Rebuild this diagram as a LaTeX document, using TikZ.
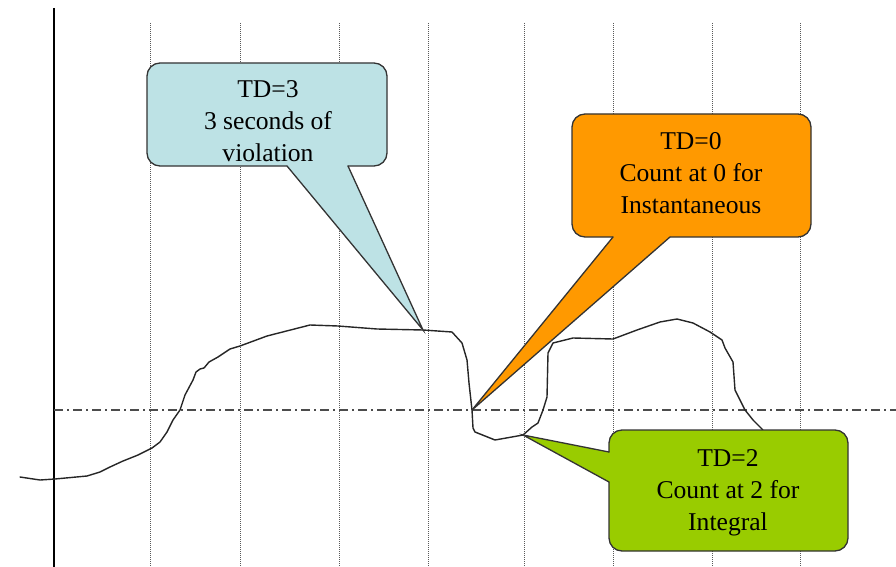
\documentclass[tikz,border=0pt]{standalone}
\usepackage{fontspec}
\setmainfont{Liberation Serif}
\definecolor{bubbleblue}{HTML}{BDE2E5}
\definecolor{bubbleorange}{HTML}{FF9900}
\definecolor{bubblegreen}{HTML}{99CC00}
\definecolor{bubbleedge}{HTML}{333333}
\begin{document}
\begin{tikzpicture}[x=1pt,y=-1pt,
  gridline/.style={black!65, line width=0.7pt, dash pattern=on 1pt off 1pt},
  axisline/.style={black, line width=1.3pt},
  levelline/.style={black!70, line width=1.3pt, dash pattern=on 9pt off 4pt on 2pt off 4pt},
  signal/.style={black!85, line width=1.4pt, line join=round, line cap=round},
  bubbleline/.style={draw=bubbleedge, line width=1.3pt, line cap=round, line join=miter},
  bubbletext/.style={font=\fontsize{25.6}{31.8}\selectfont, align=center, inner sep=0pt, text=black}]

\useasboundingbox (0,0) rectangle (896,567);

% time grid
\foreach \gx in {150,240,339,428,524,613,712,800}
  \draw[gridline] (\gx,23) -- (\gx,567);

% vertical axis and threshold level
\coordinate (axis-top) at (54,8);
\coordinate (axis-bot) at (54,567);
\draw[axisline] (axis-top) -- (axis-bot);
\coordinate (lvl-l) at (54,410);
\coordinate (lvl-r) at (896,410);
\draw[levelline] (lvl-l) -- (lvl-r);

% measured signal
\draw[signal] plot coordinates {
  (20,477) (40,480) (55,479) (87,476) (100,472) (110,467) (123,461) (138,455)
  (152,448) (160,442) (167,432) (173,420) (180,410) (185,395) (193,380) (196,372)
  (200,369) (204,368) (209,362) (218,357) (230,349) (240,346) (267,336) (310,325)
  (338,326) (377,329) (423,330) (452,332) (462,343) (467,360) (469,383) (472,410)
  (473,428) (475,432) (495,440) (523,435) (532,427) (538,423) (543,410) (547,397)
  (548,353) (553,343) (573,338) (613,339) (637,330) (660,322) (677,319) (693,323)
  (710,332) (722,340) (725,348) (733,362) (735,390) (745,410) (753,420) (762,429)
  (770,440)};

% ---- TD=3 bubble ----
\coordinate (a-nw) at (147,63);
\coordinate (a-se) at (387,166);
\coordinate (a-p1) at (287,166);
\coordinate (a-p2) at (348,166);
\coordinate (a-tip) at (423,330);
\fill[bubbleblue, rounded corners=13pt] (a-nw) rectangle (a-se);
\fill[bubbleblue] (287,160) -- (a-p1) -- (a-tip) -- (a-p2) -- (348,160) -- cycle;
\draw[bubbleline, rounded corners=13pt] (a-p2) -- (387,166) -- (387,63) -- (147,63) -- (147,166) -- (a-p1);
\draw[bubbleline] (a-p1) -- (a-tip) -- (a-p2);
\node[bubbletext] (td3) at (268,121.2) {TD=3\\3 seconds of\\violation};

% ---- TD=0 bubble ----
\coordinate (b-nw) at (572,114);
\coordinate (b-se) at (811,237);
\coordinate (b-p1) at (613,237);
\coordinate (b-p2) at (670,237);
\coordinate (b-tip) at (472,410);
\fill[bubbleorange, rounded corners=13pt] (b-nw) rectangle (b-se);
\fill[bubbleorange] (613,231) -- (b-p1) -- (b-tip) -- (b-p2) -- (670,231) -- cycle;
\draw[bubbleline, rounded corners=13pt] (b-p2) -- (811,237) -- (811,114) -- (572,114) -- (572,237) -- (b-p1);
\draw[bubbleline] (b-p1) -- (b-tip) -- (b-p2);
\node[bubbletext] (td0) at (691,173) {TD=0\\Count at 0 for\\Instantaneous};

% ---- TD=2 bubble ----
\coordinate (c-nw) at (609,430);
\coordinate (c-se) at (848,551);
\coordinate (c-p1) at (609,452);
\coordinate (c-p2) at (609,482);
\coordinate (c-tip) at (523,435);
\fill[bubblegreen, rounded corners=13pt] (c-nw) rectangle (c-se);
\fill[bubblegreen] (615,452) -- (c-p1) -- (c-tip) -- (c-p2) -- (615,482) -- cycle;
\draw[bubbleline, rounded corners=13pt] (c-p1) -- (609,430) -- (848,430) -- (848,551) -- (609,551) -- (c-p2);
\draw[bubbleline] (c-p2) -- (c-tip) -- (c-p1);
\node[bubbletext] (td2) at (728,492.7) {TD=2\\Count at 2 for\\Integral};

\end{tikzpicture}
\end{document}
